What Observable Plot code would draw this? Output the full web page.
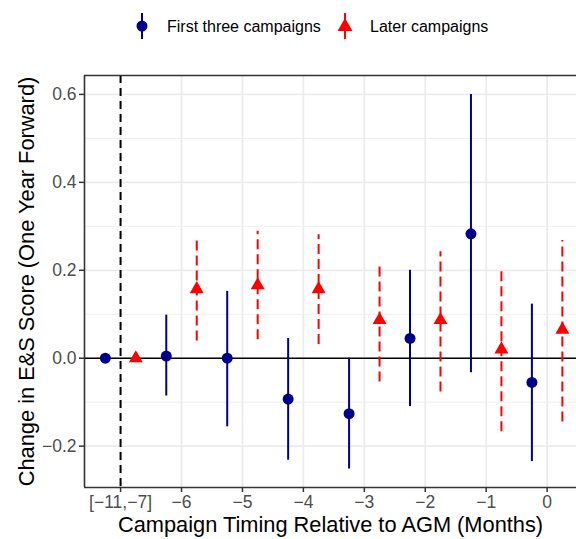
<!DOCTYPE html>
<html>
<head>
<meta charset="utf-8">
<script src="https://cdn.jsdelivr.net/npm/d3@7"></script>
<script src="https://cdn.jsdelivr.net/npm/@observablehq/plot@0.6"></script>
<style>
  html, body { margin: 0; padding: 0; background: white; }
  #wrap { position: relative; width: 576px; height: 539px; font-family: "Liberation Sans", Arial, sans-serif; }
  #legend { position: absolute; left: 0; top: 0; width: 576px; height: 55px; }
  #legend span { position: absolute; font-size: 16px; color: #000; line-height: 1; }
</style>
</head>
<body>
<div id="wrap">
  <div id="chart"></div>
  <div id="legend">
    <svg width="576" height="55" style="position:absolute;left:0;top:0">
      <line x1="142" x2="142" y1="13" y2="39" stroke="#00008B" stroke-width="2"></line>
      <circle cx="142" cy="26" r="5.5" fill="#00008B"></circle>
      <line x1="345" x2="345" y1="13" y2="39" stroke="#FF0000" stroke-width="2"></line>
      <path d="M345,18 L352.5,31 L337.5,31 Z" fill="#FF0000"></path>
    </svg>
    <span style="left:167px;top:19px">First three campaigns</span>
    <span style="left:370px;top:19px">Later campaigns</span>
  </div>
</div>
<script>
// ---- data ----
const timing = [-7, -6, -5, -4, -3, -2, -1, 0];
const timingLabels = ["[\u221211,\u22127]", "\u22126", "\u22125", "\u22124", "\u22123", "\u22122", "\u22121", "0"];
const yTicks = [-0.2, 0, 0.2, 0.4, 0.6];
const yMinor = [-0.1, 0.1, 0.3, 0.5];

const firstEst = [0.000, 0.005, 0.000, -0.093, -0.126, 0.045, 0.283, -0.055];
const firstLo  = [0.000, -0.086, -0.156, -0.232, -0.252, -0.110, -0.033, -0.235];
const firstHi  = [0.000, 0.098, 0.152, 0.045, 0.000, 0.200, 0.600, 0.123];

const laterEst = [0.000, 0.157, 0.166, 0.157, 0.087, 0.087, 0.020, 0.065];
const laterLo  = [0.000, 0.039, 0.042, 0.031, -0.054, -0.077, -0.167, -0.145];
const laterHi  = [0.000, 0.276, 0.289, 0.281, 0.215, 0.242, 0.198, 0.268];

const series = ["First three campaigns", "Later campaigns"];
const dodge = 0.25;

const first = timing.map((t, i) => ({t: t - dodge, est: firstEst[i], lo: firstLo[i], hi: firstHi[i], s: series[0]}));
const later = timing.map((t, i) => ({t: t + dodge, est: laterEst[i], lo: laterLo[i], hi: laterHi[i], s: series[1]}));

const xDomain = [-7.592, 0.482];
const yDomain = [-0.294, 0.643];
const labelOf = new Map(timing.map((t, i) => [t, timingLabels[i]]));

const chart = Plot.plot({
  width: 576,
  height: 539,
  marginTop: 75,
  marginBottom: 52,
  marginLeft: 84,
  marginRight: 0,
  style: {fontFamily: "'Liberation Sans', Arial, sans-serif", background: "white", overflow: "visible"},
  x: {domain: xDomain, label: null},
  y: {domain: yDomain, label: null},
  marks: [
    // grid
    Plot.ruleY(yMinor, {stroke: "#ebebeb", strokeWidth: 0.9}),
    Plot.ruleY(yTicks, {stroke: "#ebebeb", strokeWidth: 1.7}),
    Plot.ruleX(timing, {stroke: "#ebebeb", strokeWidth: 1.7}),
    // reference lines
    Plot.ruleX([-7], {stroke: "black", strokeWidth: 2, strokeDasharray: "8,5"}),
    Plot.ruleY([0], {stroke: "black", strokeWidth: 1.6}),
    // error bars
    Plot.ruleX(first, {x: "t", y1: "lo", y2: "hi", stroke: "#00008B", strokeWidth: 2}),
    Plot.ruleX(later, {x: "t", y1: "lo", y2: "hi", stroke: "#FF0000", strokeWidth: 2, strokeDasharray: "10,5"}),
    // points
    Plot.dot(first, {x: "t", y: "est", r: 5.5, fill: "#00008B", stroke: null, symbol: "circle"}),
    Plot.dot(later, {x: "t", y: "est", r: 5.2, fill: "#FF0000", stroke: null, symbol: "triangle"}),
    // panel border (left, top, bottom)
    Plot.ruleX([xDomain[0]], {stroke: "#333333", strokeWidth: 1.6}),
    Plot.ruleY([yDomain[0], yDomain[1]], {stroke: "#333333", strokeWidth: 1.6}),
    // axes
    Plot.axisX(timing, {tickSize: 5, tickPadding: 3, stroke: "#333333", strokeWidth: 1.5, fill: "#4d4d4d", fontSize: 17.5, tickFormat: d => labelOf.get(d), label: null}),
    Plot.axisY(yTicks, {tickSize: 5, tickPadding: 3, stroke: "#333333", strokeWidth: 1.5, fill: "#4d4d4d", fontSize: 17.5, tickFormat: d => d3.format(".1f")(d), label: null}),
    // axis titles
    Plot.text(["Campaign Timing Relative to AGM (Months)"], {frameAnchor: "bottom", dy: 38, fontSize: 21.8, fill: "black", lineAnchor: "middle", textAnchor: "middle"}),
    Plot.text(["Change in E&S Score (One Year Forward)"], {frameAnchor: "left", dx: -57, rotate: -90, fontSize: 21.8, fill: "black", lineAnchor: "middle", textAnchor: "middle"})
  ]
});
document.getElementById("chart").appendChild(chart);
</script>
</body>
</html>
